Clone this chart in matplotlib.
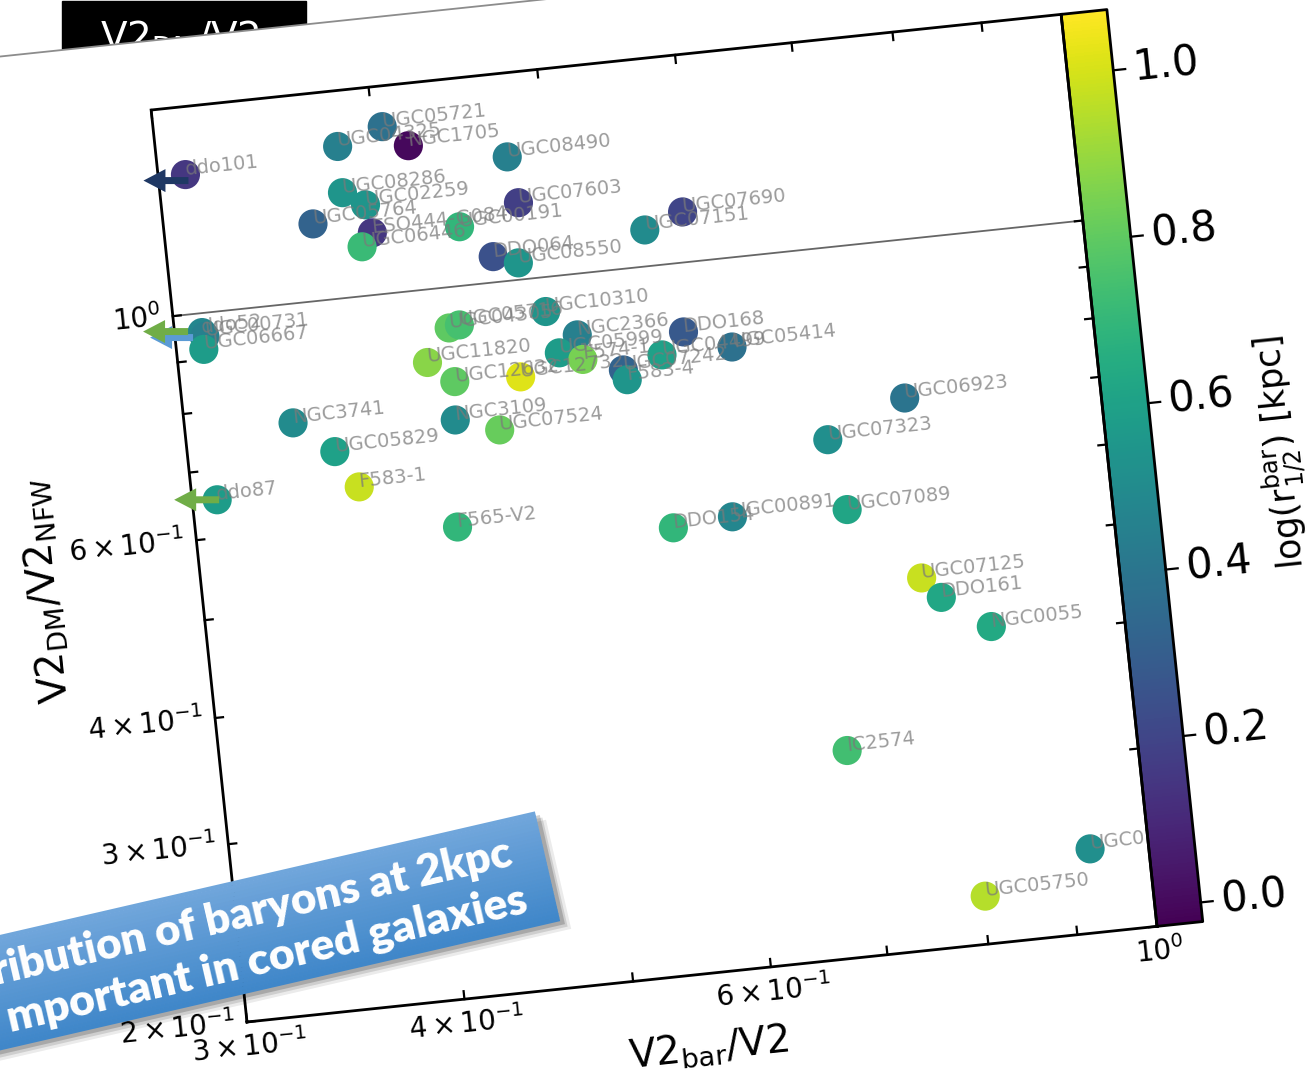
"""Tilted V2_DM/V2_NFW vs V2_bar/V2 scatter, pasted on a slide"""

import numpy as np
import matplotlib
matplotlib.use("Agg")
import matplotlib.pyplot as plt
from matplotlib import transforms as mtransforms
from matplotlib.patches import Polygon, Rectangle, FancyArrow
from matplotlib.colors import Normalize

# ---- data ----
names = [
    "ddo101", "UGC05721", "UGC04325", "NGC1705", "UGC08490", "UGC08286",
    "UGC02259", "UGC05764", "ESO444-G084", "UGC06446", "UGC00191", "UGC07603",
    "DDO064", "UGC08550", "UGC07151", "UGC07690", "ddo52", "UGC00731",
    "UGC06667", "UGC04305", "UGC05716", "UGC10310", "UGC11820", "UGC12632",
    "UGC12732", "NGC2366", "UGC05999", "F574-1", "UGC07242", "F583-4",
    "UGC04499", "DDO168", "UGC05414", "NGC3741", "UGC05829", "F583-1",
    "ddo87", "F565-V2", "NGC3109", "UGC07524", "DDO154", "UGC00891",
    "UGC07089", "UGC06923", "UGC07323", "UGC07125", "DDO161", "NGC0055",
    "IC2574", "UGC07261", "UGC05750",
]
v2bar_ratio = [
    0.311, 0.405, 0.381, 0.418, 0.475, 0.381,
    0.392, 0.365, 0.394, 0.388, 0.442, 0.479,
    0.460, 0.475, 0.563, 0.593, 0.311, 0.312,
    0.311, 0.430, 0.436, 0.489, 0.416, 0.430,
    0.469, 0.508, 0.495, 0.510, 0.537, 0.539,
    0.566, 0.584, 0.621, 0.346, 0.364, 0.374,
    0.310, 0.423, 0.428, 0.453, 0.561, 0.607,
    0.706, 0.773, 0.695, 0.771, 0.789, 0.839,
    0.683, 0.926, 0.802,
]
v2dm_ratio = [
    1.372, 1.459, 1.410, 1.389, 1.323, 1.269,
    1.228, 1.191, 1.151, 1.118, 1.143, 1.190,
    1.060, 1.039, 1.086, 1.121, 0.957, 0.948,
    0.921, 0.912, 0.916, 0.925, 0.848, 0.807,
    0.803, 0.871, 0.840, 0.823, 0.796, 0.778,
    0.816, 0.855, 0.817, 0.764, 0.709, 0.651,
    0.654, 0.581, 0.740, 0.716, 0.551, 0.557,
    0.551, 0.699, 0.648, 0.464, 0.442, 0.409,
    0.320, 0.242, 0.223,
]
log_rhalf = [
    0.15, 0.38, 0.45, 0.00, 0.45, 0.55,
    0.55, 0.32, 0.15, 0.72, 0.70, 0.18,
    0.25, 0.55, 0.50, 0.20, 0.48, 0.45,
    0.58, 0.80, 0.75, 0.55, 0.88, 0.80,
    1.02, 0.45, 0.58, 0.85, 0.32, 0.55,
    0.60, 0.28, 0.38, 0.50, 0.60, 0.98,
    0.58, 0.70, 0.50, 0.82, 0.70, 0.48,
    0.62, 0.40, 0.52, 0.98, 0.63, 0.64,
    0.74, 0.52, 0.95,
]

x_tick_marks = [0.3, 0.4, 0.5, 0.6, 0.7, 0.8, 0.9, 1.0]
x_tick_labels = {0.3: r"$\mathdefault{3\times10^{-1}}$", 0.4: r"$\mathdefault{4\times10^{-1}}$",
                 0.6: r"$\mathdefault{6\times10^{-1}}$", 1.0: r"$\mathdefault{10^{0}}$"}
y_tick_marks = [0.2, 0.3, 0.4, 0.5, 0.6, 0.7, 0.8, 0.9, 1.0]
y_tick_labels = {0.2: r"$\mathdefault{2\times10^{-1}}$", 0.3: r"$\mathdefault{3\times10^{-1}}$",
                 0.4: r"$\mathdefault{4\times10^{-1}}$", 0.6: r"$\mathdefault{6\times10^{-1}}$",
                 1.0: r"$\mathdefault{10^{0}}$"}
cbar_ticks = [0.0, 0.2, 0.4, 0.6, 0.8, 1.0]
c_min, c_max = -0.023, 1.073

# arrows drawn on the slide: (galaxy, colour, tail dx, tip dx, dy down) in pixels
arrows = [
    ("ddo101", "#1f3864", 3, -42, 6),
    ("ddo52", "#5b9bd5", -9, -52, 5),
    ("ddo52", "#70ad47", -14, -59, -1),
    ("ddo87", "#70ad47", 2, -43, 0),
]

W, H, DPI = 1313, 1081, 100
TILT = 6.0

fig = plt.figure(figsize=(W / DPI, H / DPI), dpi=DPI)
fig.patch.set_facecolor("white")

# slide title box, partly hidden under the pasted chart
fig.add_artist(Rectangle((62 / W, (H - 60) / H), 244 / W, 59 / H,
                         transform=fig.transFigure, color="black", zorder=-5))
fig.text(100 / W, (H - 19) / H, r"V2$_{\mathrm{DM}}$/V2", color="white",
         fontsize=28, va="top", ha="left", zorder=-4)

ax = fig.add_axes([247 / W, 59 / H, 915 / W, 917 / H])
ax.set_xscale("log")
ax.set_yscale("log")
ax.set_xlim(0.3, 1.0)
ax.set_ylim(0.2, 1.6)
ax.axis("off")

bl = ax.transAxes.transform((0, 0))
rot = mtransforms.Affine2D().rotate_deg_around(bl[0], bl[1], TILT)
T_data = ax.transData + rot
T_axes = ax.transAxes + rot
T_x = mtransforms.blended_transform_factory(ax.transData, ax.transAxes) + rot
T_y = mtransforms.blended_transform_factory(ax.transAxes, ax.transData) + rot

px_u = 1 / 915  # one pixel in axes fraction
px_v = 1 / 917

# the pasted picture (white card with a grey edge)
card = Polygon([(-1, -1), (2, -1), (2, 1 + 69 * px_v), (-1, 1 + 69 * px_v)],
               closed=True, transform=T_axes, facecolor="white",
               edgecolor="#8c8c8c", lw=1.3, zorder=-10, clip_on=False)
ax.add_patch(card)

norm = Normalize(vmin=c_min, vmax=c_max)
cmap = plt.get_cmap("viridis")

ax.scatter(v2bar_ratio, v2dm_ratio, c=log_rhalf, cmap=cmap, norm=norm, s=440,
           linewidths=0, transform=T_data, clip_on=False, zorder=2)
for n, xv, yv in zip(names, v2bar_ratio, v2dm_ratio):
    ax.text(xv, yv, n, transform=T_data, rotation=TILT, rotation_mode="anchor",
            ha="left", va="baseline", fontsize=14, color="#7a7a7a", alpha=0.75,
            zorder=3, clip_on=False)

ax.plot([0, 1], [1, 1], transform=T_y, color="0.4", lw=1.3, zorder=1, clip_on=False)

# frame and ticks
ax.plot([0, 1, 1, 0, 0], [0, 0, 1, 1, 0], transform=T_axes, color="black",
        lw=2.0, zorder=6, clip_on=False, solid_joinstyle="miter")
tick_len = 8
for xv in x_tick_marks:
    ax.plot([xv, xv], [0, tick_len * px_v], transform=T_x, color="black", lw=1.6, clip_on=False, zorder=6)
    ax.plot([xv, xv], [1, 1 - tick_len * px_v], transform=T_x, color="black", lw=1.6, clip_on=False, zorder=6)
    if xv in x_tick_labels:
        ax.text(xv, -10 * px_v, x_tick_labels[xv], transform=T_x, rotation=TILT,
                rotation_mode="anchor", ha="center", va="top", fontsize=20, clip_on=False)
for yv in y_tick_marks:
    ax.plot([0, tick_len * px_u], [yv, yv], transform=T_y, color="black", lw=1.6, clip_on=False, zorder=6)
    ax.plot([1, 1 - tick_len * px_u], [yv, yv], transform=T_y, color="black", lw=1.6, clip_on=False, zorder=6)
    if yv in y_tick_labels:
        ax.text(-12 * px_u, yv, y_tick_labels[yv], transform=T_y, rotation=TILT,
                rotation_mode="anchor", ha="right", va="center", fontsize=20, clip_on=False)

ax.text(0.499, -0.081, r"V2$_{\mathrm{bar}}$/V2", transform=T_axes, rotation=TILT,
        rotation_mode="anchor", ha="center", va="center", fontsize=28, clip_on=False)
ax.text(-0.170, 0.491, r"V2$_{\mathrm{DM}}$/V2$_{\mathrm{NFW}}$", transform=T_axes,
        rotation=90 + TILT, rotation_mode="anchor", ha="center", va="center",
        fontsize=28, clip_on=False)

# colorbar glued to the right edge
cbw = 46 * px_u
vv = np.linspace(0, 1, 257)
uu = np.array([1.0, 1.0 + cbw])
UU, VV = np.meshgrid(uu, vv)
cc = (c_min + 0.5 * (vv[:-1] + vv[1:]) * (c_max - c_min))[:, None]
ax.pcolormesh(UU, VV, cc, cmap=cmap, norm=norm, transform=T_axes,
              shading="flat", zorder=5, clip_on=False)
ax.plot([1, 1 + cbw, 1 + cbw, 1, 1], [0, 0, 1, 1, 0], transform=T_axes,
        color="black", lw=2.0, zorder=6, clip_on=False)
for t in cbar_ticks:
    vf = norm(t)
    ax.plot([1 + cbw, 1 + cbw + 12 * px_u], [vf, vf], transform=T_axes,
            color="black", lw=1.6, clip_on=False, zorder=6)
    ax.text(1 + cbw + 20 * px_u, vf, f"{t:.1f}", transform=T_axes, rotation=TILT,
            rotation_mode="anchor", ha="left", va="center", fontsize=30, clip_on=False)
ax.text(1.189, 0.50, r"log(r$^{\mathrm{bar}}_{1/2}$) [kpc]", transform=T_axes,
        rotation=90 + TILT, rotation_mode="anchor", ha="center", va="center",
        fontsize=25, clip_on=False)

# arrows put on the slide
for gal, col, tail, tip, dy in arrows:
    i = names.index(gal)
    px, py = T_data.transform((v2bar_ratio[i], v2dm_ratio[i]))
    fig.add_artist(FancyArrow(px + tail, py - dy, tip - tail, 0, width=7,
                              head_width=23, head_length=22,
                              length_includes_head=True, color=col, lw=0,
                              transform=mtransforms.IdentityTransform(), zorder=6))

# blue banner across the lower left
BANNER_TILT = 13.0
BANNER_H = 112
bt = mtransforms.Affine2D().rotate_deg(BANNER_TILT).translate(535, 269)
for dx, dy, a in [(9, -10, 0.08), (6, -7, 0.12), (4, -4, 0.18)]:
    fig.add_artist(Rectangle((-820 + dx, -BANNER_H + dy), 820, BANNER_H, color="black",
                             alpha=a, lw=0, transform=bt, zorder=7))
n_strip = 30
top_col = np.array([0.44, 0.65, 0.86])
bot_col = np.array([0.25, 0.53, 0.79])
for k in range(n_strip):
    f = k / (n_strip - 1)
    fig.add_artist(Rectangle((-820, -BANNER_H * (k + 1) / n_strip), 820,
                             BANNER_H / n_strip + 0.6,
                             color=top_col * (1 - f) + bot_col * f, lw=0,
                             transform=bt, zorder=8))
fig.text(-32, -47, "ribution of baryons at 2kpc", transform=bt, rotation=BANNER_TILT,
         rotation_mode="anchor", ha="right", va="baseline", color="white",
         fontsize=31.5, fontweight="heavy", family="Lato", zorder=9)
fig.text(-28, -96, "mportant in cored galaxies", transform=bt, rotation=BANNER_TILT,
         rotation_mode="anchor", ha="right", va="baseline", color="white",
         fontsize=32, fontweight="heavy", family="Lato", zorder=9)

fig.savefig("out.png", dpi=DPI)
